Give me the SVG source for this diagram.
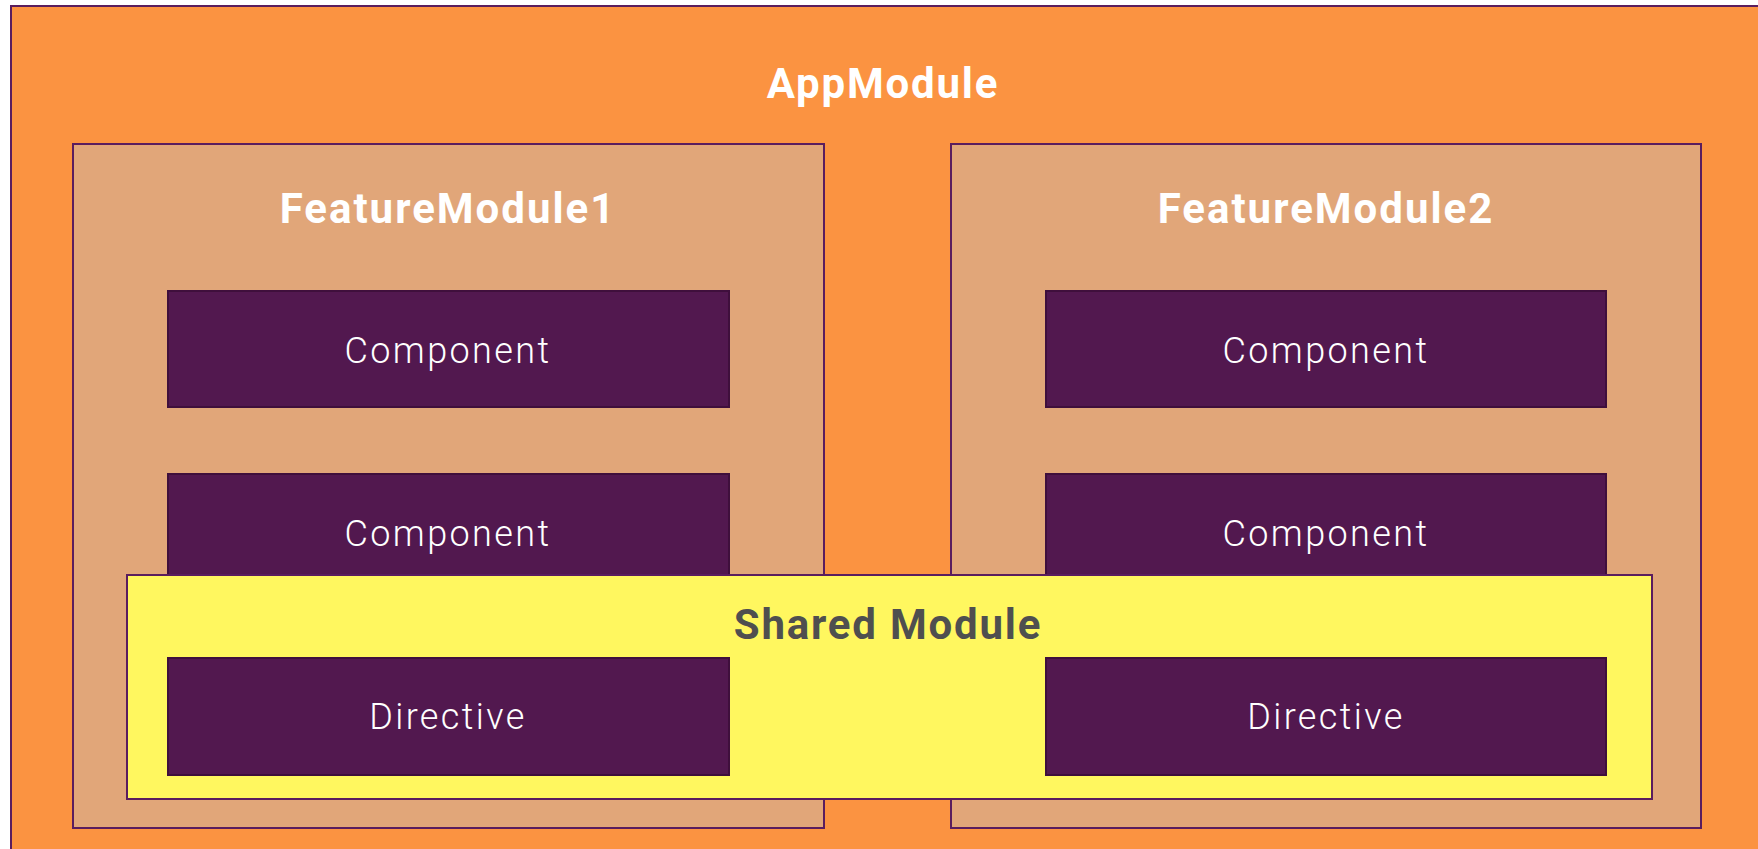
<svg xmlns="http://www.w3.org/2000/svg" width="1758" height="849" viewBox="0 0 1758 849">
<defs>
<style>
.box{stroke:#5a1d5e;stroke-width:2}
.app{fill:#fb9341}
.feat{fill:#e1a679}
.comp{fill:#52184f;stroke:#3f0f3c}
.shared{fill:#fff75f}
.title{font-family:Roboto,"Liberation Sans",sans-serif;font-weight:bold;fill:#ffffff;text-anchor:middle;font-size:42px;letter-spacing:1.8px}
.label{font-family:Roboto,"Liberation Sans",sans-serif;font-weight:300;fill:#ffffff;text-anchor:middle;font-size:36px;letter-spacing:2.4px}
</style>
</defs>
<rect width="1758" height="849" fill="#ffffff"/>
<g id="appmodule">
<rect class="box app" x="11" y="6" width="1760" height="860"/>
<text class="title" x="883" y="98">AppModule</text>
</g>
<g id="featuremodule1">
<rect class="box feat" x="73" y="144" width="751" height="684"/>
<text class="title" x="448" y="223" style="letter-spacing:2px">FeatureModule1</text>
</g>
<g id="featuremodule2">
<rect class="box feat" x="951" y="144" width="750" height="684"/>
<text class="title" x="1326" y="223" style="letter-spacing:2px">FeatureModule2</text>
</g>
<g id="component1a">
<rect class="box comp" x="168" y="291" width="561" height="116"/>
<text class="label" x="448" y="363">Component</text>
</g>
<g id="component2a">
<rect class="box comp" x="1046" y="291" width="560" height="116"/>
<text class="label" x="1326" y="363">Component</text>
</g>
<g id="component1b">
<rect class="box comp" x="168" y="474" width="561" height="116"/>
<text class="label" x="448" y="546">Component</text>
</g>
<g id="component2b">
<rect class="box comp" x="1046" y="474" width="560" height="116"/>
<text class="label" x="1326" y="546">Component</text>
</g>
<g id="sharedmodule">
<rect class="box shared" x="127" y="575" width="1525" height="224"/>
<text class="title" x="888" y="639" style="fill:#4f4f4f">Shared Module</text>
</g>
<g id="directive1">
<rect class="box comp" x="168" y="658" width="561" height="117"/>
<text class="label" x="448" y="729">Directive</text>
</g>
<g id="directive2">
<rect class="box comp" x="1046" y="658" width="560" height="117"/>
<text class="label" x="1326" y="729">Directive</text>
</g>
<g id="connectors"></g>
</svg>
